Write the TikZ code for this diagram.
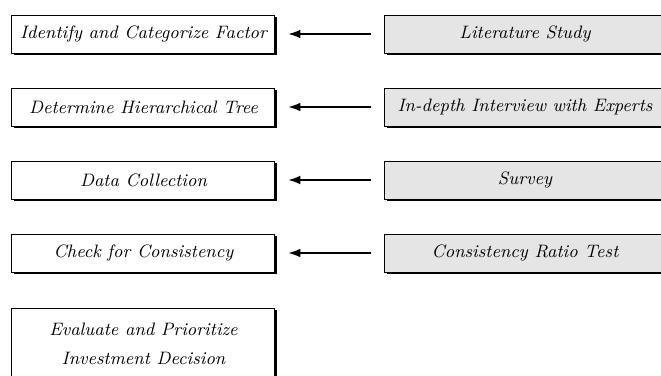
\documentclass[tikz,border=0pt]{standalone}
\usetikzlibrary{arrows.meta,shadows}

\begin{document}
\begin{tikzpicture}[x=0.5pt,y=-0.5pt,
	stepbox/.style={draw,line width=0.5pt,fill=white,inner sep=0pt,
		minimum width=131.5pt,minimum height=19pt,font=\small\itshape,
		drop shadow={shadow xshift=0.8pt,shadow yshift=-0.8pt,fill=black,opacity=1}},
	toolbox/.style={stepbox,fill=black!10,minimum width=140pt},
	feed/.style={-{Latex[length=6pt,width=4.4pt]},line width=0.6pt,shorten <=6.5pt,shorten >=6.5pt}]

	\useasboundingbox (0,0) rectangle (661,376);

	% 1st step
	\node[stepbox] (ident) at (143.5,34) {Identify and Categorize Factor};
	\node[toolbox] (lit) at (525,34) {Literature Study};
	\draw[feed] (lit.west) -- (ident.east);

	% 2nd step
	\node[stepbox] (tree) at (143.5,107) {Determine Hierarchical Tree};
	\node[toolbox] (interview) at (525,107) {In-depth Interview with Experts};
	\draw[feed] (interview.west) -- (tree.east);

	% 3rd step
	\node[stepbox] (data) at (143.5,180) {Data Collection};
	\node[toolbox] (survey) at (525,180) {Survey};
	\draw[feed] (survey.west) -- (data.east);

	% 4th step
	\node[stepbox] (check) at (143.5,253) {Check for Consistency};
	\node[toolbox] (ratio) at (525,253) {Consistency Ratio Test};
	\draw[feed] (ratio.west) -- (check.east);

	% last step
	\node[stepbox,minimum height=36pt,align=center] (eval) at (143.5,344)
		{Evaluate and Prioritize\\[3.5pt] Investment Decision};

\end{tikzpicture}
\end{document}
